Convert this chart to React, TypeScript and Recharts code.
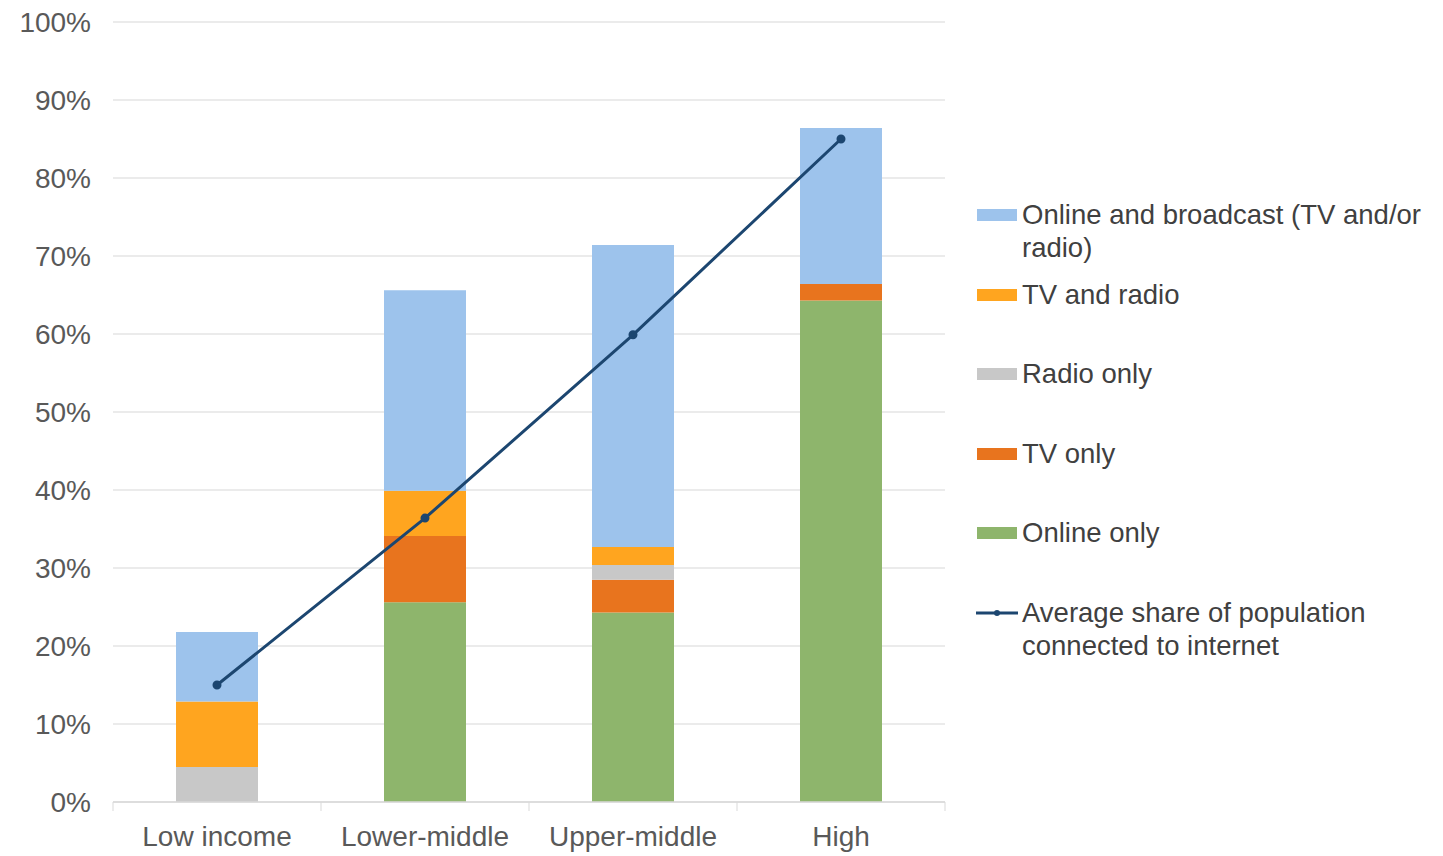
import React from "react";
import {
  ComposedChart,
  Bar,
  Line,
  XAxis,
  YAxis,
  CartesianGrid,
} from "recharts";

// Income groups, values in percent of population
const categories = ["Low income", "Lower-middle", "Upper-middle", "High"];
const onlineOnly = [0, 25.6, 24.3, 64.3];
const tvOnly = [0, 8.5, 4.2, 2.1];
const radioOnly = [4.5, 0, 1.9, 0];
const tvAndRadio = [8.4, 5.8, 2.3, 0];
const onlineAndBroadcast = [8.9, 25.7, 38.7, 20.0];
const internetShare = [15.0, 36.4, 59.9, 85.0];
const yTicks = [0, 10, 20, 30, 40, 50, 60, 70, 80, 90, 100];

const FONT = "'Liberation Sans', Arial, sans-serif";
const TEXT = "#595959";
const LINE_COLOR = "#1C4670";

const bars = [
  { key: "onlineOnly", name: "Online only", color: "#8EB56C" },
  { key: "tvOnly", name: "TV only", color: "#E8741E" },
  { key: "radioOnly", name: "Radio only", color: "#C8C8C8" },
  { key: "tvAndRadio", name: "TV and radio", color: "#FFA51F" },
  {
    key: "onlineAndBroadcast",
    name: "Online and broadcast (TV and/or radio)",
    color: "#9DC3EC",
  },
];

const data = categories.map((c, i) => ({
  category: c,
  onlineOnly: onlineOnly[i],
  tvOnly: tvOnly[i],
  radioOnly: radioOnly[i],
  tvAndRadio: tvAndRadio[i],
  onlineAndBroadcast: onlineAndBroadcast[i],
  internetShare: internetShare[i],
}));

const CHART_W = 960;
const CHART_H = 856;
const Y_AXIS_W = 113;
const MARGIN = { top: 22, right: 15, bottom: 0, left: 0 };
const BAND = (CHART_W - MARGIN.right - Y_AXIS_W) / categories.length;

function CategoryTick(props: any) {
  const { x, y, payload, index } = props;
  const isLast = index === categories.length - 1;
  return (
    <g>
      <line x1={x - BAND / 2} y1={y} x2={x - BAND / 2} y2={y + 9} stroke="#D9D9D9" />
      {isLast && (
        <line x1={x + BAND / 2} y1={y} x2={x + BAND / 2} y2={y + 9} stroke="#D9D9D9" />
      )}
      <text
        x={x}
        y={y + 37}
        textAnchor="middle"
        dominantBaseline="middle"
        fill={TEXT}
        fontSize={28}
        fontFamily={FONT}
      >
        {payload.value}
      </text>
    </g>
  );
}

const legendItems = [
  ...bars.slice().reverse().map((b) => ({ name: b.name, color: b.color, line: false })),
  { name: "Average share of population connected to internet", color: LINE_COLOR, line: true },
];

function SideLegend() {
  return (
    <div style={{ position: "absolute", left: 976, top: 0, width: 467, fontFamily: FONT }}>
      {legendItems.map((item, i) => (
        <div
          key={item.name}
          style={{
            position: "absolute",
            top: 198 + i * 79.6,
            left: 0,
            display: "flex",
            alignItems: "flex-start",
          }}
        >
          <div style={{ width: 46, height: 34, position: "relative", flexShrink: 0 }}>
            {item.line ? (
              <svg width={42} height={34} style={{ position: "absolute", left: 0, top: 0 }}>
                <line x1={0} y1={17} x2={42} y2={17} stroke={item.color} strokeWidth={3} />
                <circle cx={21} cy={17} r={3} fill={item.color} />
              </svg>
            ) : (
              <div
                style={{
                  position: "absolute",
                  left: 1,
                  top: 11,
                  width: 40,
                  height: 12,
                  background: item.color,
                }}
              />
            )}
          </div>
          <div
            style={{
              width: 418,
              fontSize: 27.5,
              lineHeight: "33px",
              color: "#404040",
            }}
          >
            {item.name}
          </div>
        </div>
      ))}
    </div>
  );
}

export default function App() {
  return (
    <div
      style={{
        position: "absolute",
        left: 0,
        top: 0,
        width: 1443,
        height: 856,
        background: "#fff",
        overflow: "hidden",
      }}
    >
      <ComposedChart width={CHART_W} height={CHART_H} data={data} margin={MARGIN}>
        <CartesianGrid vertical={false} stroke="#E4E4E4" strokeWidth={1.5} />
        <XAxis
          dataKey="category"
          height={54}
          tickLine={false}
          tickSize={0}
          tickMargin={0}
          axisLine={{ stroke: "#D9D9D9", strokeWidth: 1.5 }}
          tick={<CategoryTick />}
          interval={0}
        />
        <YAxis
          width={Y_AXIS_W}
          domain={[0, 100]}
          ticks={yTicks}
          allowDataOverflow
          axisLine={false}
          tickLine={false}
          tickSize={0}
          tickMargin={22}
          tickFormatter={(v) => `${v}%`}
          tick={{ fill: TEXT, fontSize: 28, fontFamily: FONT }}
        />
        {bars.map((b) => (
          <Bar
            key={b.key}
            dataKey={b.key}
            name={b.name}
            stackId="media"
            fill={b.color}
            barSize={82}
            isAnimationActive={false}
          />
        ))}
        <Line
          dataKey="internetShare"
          name="Average share of population connected to internet"
          stroke={LINE_COLOR}
          strokeWidth={3}
          dot={{ r: 3, fill: LINE_COLOR, stroke: LINE_COLOR }}
          isAnimationActive={false}
        />
      </ComposedChart>
      <SideLegend />
    </div>
  );
}
